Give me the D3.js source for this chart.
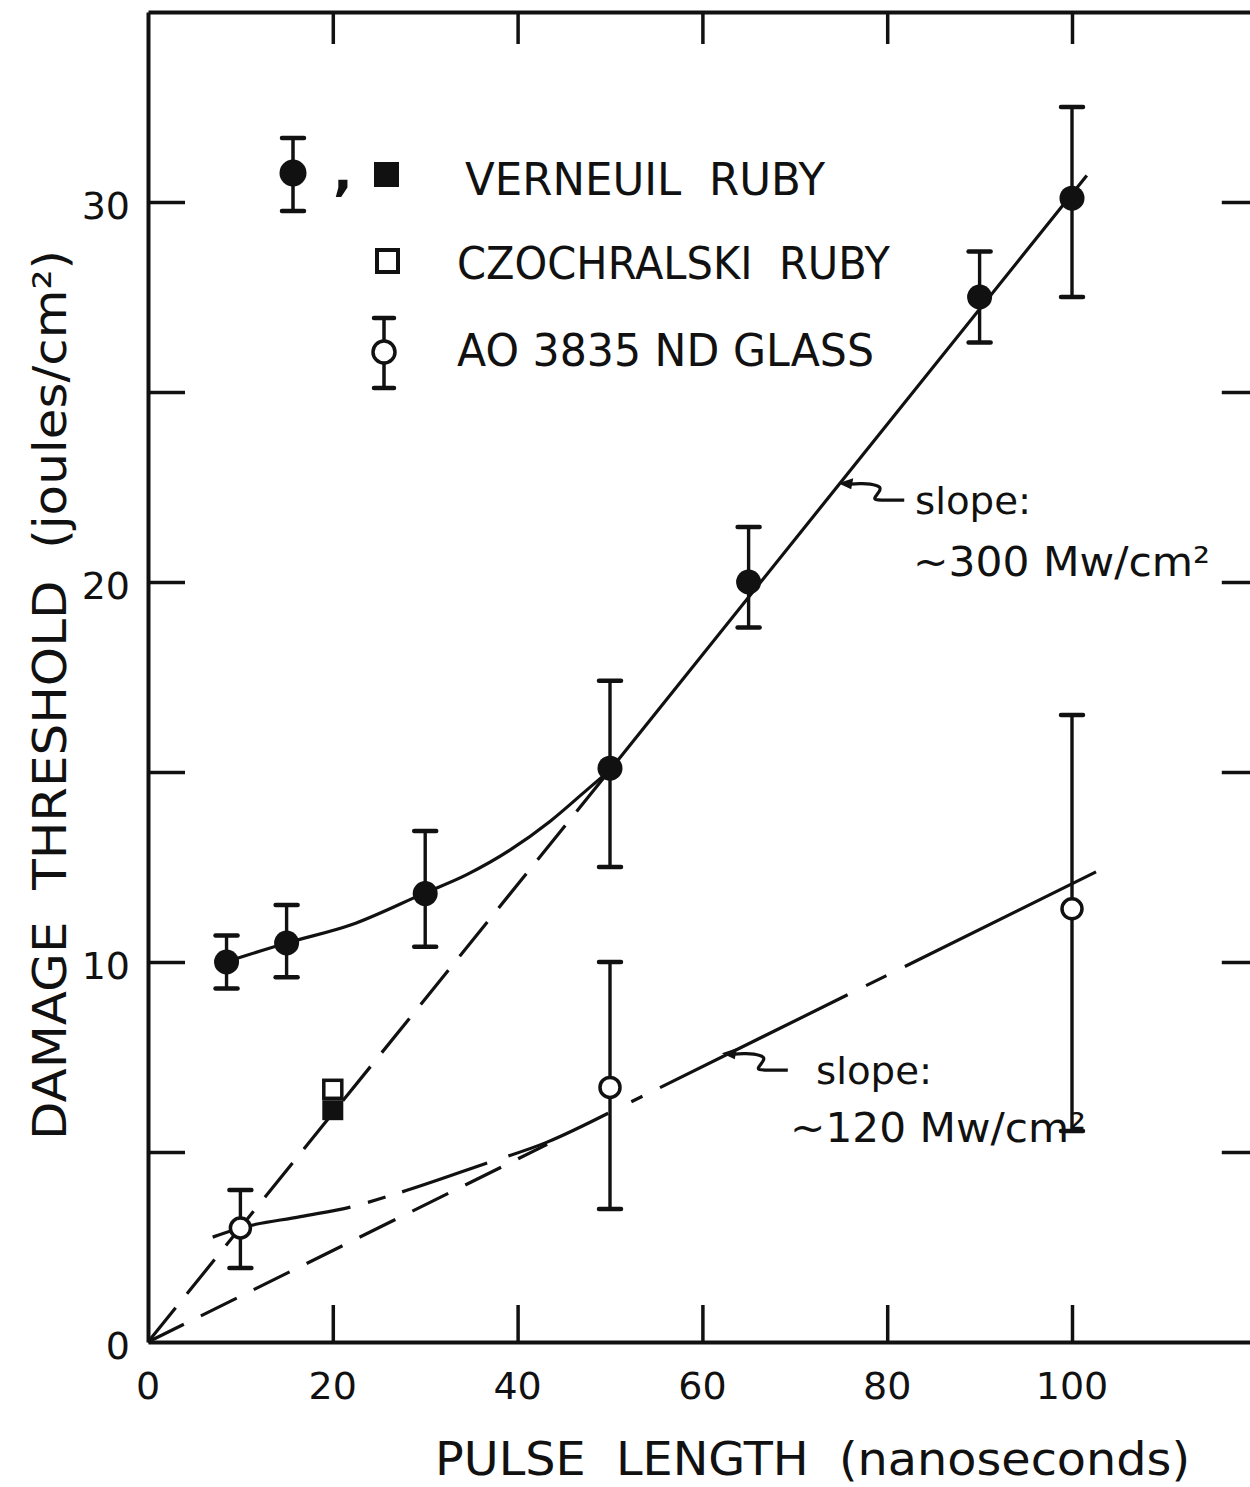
<!DOCTYPE html>
<html>
<head>
<meta charset="utf-8">
<script src="https://cdn.jsdelivr.net/npm/d3@7"></script>
<style>
  body { margin: 0; background: #fff; }
  svg { display: block; }
  text { font-family: "DejaVu Sans", sans-serif; fill: #111; white-space: pre; }
</style>
</head>
<body>
<div id="chart"></div>
<script>
// DATA

// Verneuil ruby, filled circles with error bars
const verneuilX = [8.5, 15, 30, 50, 65, 90, 100];
const verneuilY = [10.0, 10.5, 11.8, 15.1, 20.0, 27.5, 30.1];
const verneuilLo = [9.3, 9.6, 10.4, 12.5, 18.8, 26.3, 27.5];
const verneuilHi = [10.7, 11.5, 13.45, 17.4, 21.45, 28.7, 32.5];

// Verneuil (filled) and Czochralski (open) squares at 20 ns
const verneuilSqX = [20];
const verneuilSqY = [6.1];
const czochralskiX = [20];
const czochralskiY = [6.65];

// AO 3835 Nd glass, open circles with error bars
const glassX = [10, 50, 100];
const glassY = [3.0, 6.7, 11.4];
const glassLo = [1.95, 3.5, 5.55];
const glassHi = [4.0, 10.0, 16.5];

// hand drawn fit curves: a bend at short pulses, then a straight line
const verneuilBendX = [8.4, 15, 22, 29.8, 34.5, 39.2, 43.5, 47.5, 50];
const verneuilBendY = [10.0, 10.5, 10.98, 11.8, 12.3, 12.95, 13.7, 14.53, 15.05];
const verneuilLineX = [50, 101.6];
const verneuilLineY = [15.05, 30.7];
const glassBendX = [7.0, 10, 16.5, 21.9, 27.5, 36.7, 43.2, 49.8];
const glassBendY = [2.76, 3.0, 3.3, 3.55, 3.95, 4.71, 5.26, 6.02];
const glassLineX = [49.8, 102.6];
const glassLineY = [6.02, 12.37];
// where the glass fit is drawn solid (the rest is gaps)
const glassSolidRanges = [[7, 21.9], [23.8, 25.7], [27.5, 36.7], [39, 49.8], [52.3, 53.5], [55.4, 75.7], [77.7, 79.9], [81.9, 102.6]];

// dashed extrapolations to the origin
const rubyDashX = [0, 50];
const rubyDashY = [0, 15.05];
const glassDashX = [0, 43.2];
const glassDashY = [0, 5.2];

// axes
const xTicks = [20, 40, 60, 80, 100];
const yTicks = [5, 10, 15, 20, 25, 30];
const xTickLabels = [0, 20, 40, 60, 80, 100];
const yTickLabels = [0, 10, 20, 30];

// legend + annotations
const legendLabels = ["VERNEUIL  RUBY", "CZOCHRALSKI  RUBY", "AO 3835 ND GLASS"];
const slopeTips = [[74.7, 22.6], [62.1, 7.6]];
const slopeLines = [["slope:", "~300 Mw/cm\u00B2"], ["slope:", "~120 Mw/cm\u00B2"]];

// SETUP
const W = 1250, H = 1487;
const INK = "#111";

const svg = d3.select("#chart").append("svg")
  .attr("width", W).attr("height", H)
  .style("background", "#fff");

const x = d3.scaleLinear().domain([0, 120]).range([148, 148 + 120 * 9.24]);
const y = d3.scaleLinear().domain([0, 35]).range([1342, 1342 - 35 * 38]);

//FRAME + TICKS (ticks point inward)
function styleAxis(g, tickW) {
  g.select(".domain").attr("stroke", INK).attr("stroke-width", 4);
  g.selectAll(".tick line").attr("stroke", INK).attr("stroke-width", tickW);
  g.selectAll(".tick text").remove();
}

svg.append("g").attr("transform", `translate(0,${y(0)})`)
  .call(d3.axisBottom(x).tickValues(xTicks).tickSize(-37).tickSizeOuter(0).tickFormat(""))
  .call(g => styleAxis(g, 3.5));
svg.append("g").attr("transform", `translate(0,${y(35)})`)
  .call(d3.axisTop(x).tickValues(xTicks).tickSize(-32).tickSizeOuter(0).tickFormat(""))
  .call(g => styleAxis(g, 3.5));
svg.append("g").attr("transform", `translate(${x(0)},0)`)
  .call(d3.axisLeft(y).tickValues(yTicks).tickSize(-37).tickSizeOuter(0).tickFormat(""))
  .call(g => styleAxis(g, 3.5));
svg.append("g").attr("transform", `translate(${x(120)},0)`)
  .call(d3.axisRight(y).tickValues(yTicks).tickSize(-35).tickSizeOuter(0).tickFormat(""))
  .call(g => styleAxis(g, 3.5));

// tick labels
svg.append("g").selectAll("text")
  .data(xTickLabels).join("text")
  .attr("x", d => x(d))
  .attr("y", y(0) + 44)
  .attr("dominant-baseline", "central")
  .attr("text-anchor", "middle")
  .style("font-size", "38px")
  .text(d => d);

svg.append("g").selectAll("text")
  .data(yTickLabels).join("text")
  .attr("x", 130)
  .attr("y", d => y(d) + 4)
  .attr("dominant-baseline", "central")
  .attr("text-anchor", "end")
  .style("font-size", "38px")
  .text(d => d);

// axis titles
svg.append("text")
  .attr("x", 435).attr("y", 1475)
  .attr("textLength", 755).attr("lengthAdjust", "spacingAndGlyphs")
  .style("font-size", "46px")
  .text("PULSE  LENGTH  (nanoseconds)");

svg.append("text")
  .attr("transform", "translate(66,1140) rotate(-90)")
  .attr("textLength", 890).attr("lengthAdjust", "spacingAndGlyphs")
  .style("font-size", "46px")
  .text("DAMAGE  THRESHOLD  (joules/cm\u00B2)");

//FIT LINES
const line = d3.line().x(d => x(d[0])).y(d => y(d[1]));
const curve = d3.line().x(d => x(d[0])).y(d => y(d[1])).curve(d3.curveMonotoneX);
const plot = svg.append("g").attr("fill", "none").attr("stroke", INK);

// bend + straight part as ONE subpath (dashes restart on every subpath)
function bendThenLine(bx, by, lx, ly) {
  return curve(d3.zip(bx, by)) + line(d3.zip(lx, ly)).replace(/^M/, "L");
}

plot.append("path")
  .attr("d", line(d3.zip(rubyDashX, rubyDashY)))
  .attr("stroke-width", 3.2)
  .attr("stroke-dasharray", "44,18");

plot.append("path")
  .attr("d", line(d3.zip(glassDashX, glassDashY)))
  .attr("stroke-width", 3.2)
  .attr("stroke-dasharray", "40,19");

plot.append("path")
  .attr("d", bendThenLine(verneuilBendX, verneuilBendY, verneuilLineX, verneuilLineY))
  .attr("stroke-width", 3.2);

const glassPath = plot.append("path")
  .attr("d", bendThenLine(glassBendX, glassBendY, glassLineX, glassLineY))
  .attr("stroke-width", 3.2);

// turn the solid ranges into a dash pattern along the path
function lengthAtX(node, px) {
  let lo = 0, hi = node.getTotalLength();
  for (let i = 0; i < 40; i++) {
    const mid = (lo + hi) / 2;
    if (node.getPointAtLength(mid).x < px) lo = mid; else hi = mid;
  }
  return lo;
}
{
  const node = glassPath.node();
  const total = node.getTotalLength();
  const stops = glassSolidRanges.flat().map(v => lengthAtX(node, x(v)));
  const dash = [0, stops[0]];
  for (let i = 1; i < stops.length; i++) dash.push(Math.max(0, stops[i] - stops[i - 1]));
  dash.push(total);
  glassPath.attr("stroke-dasharray", dash.map(d => d.toFixed(1)).join(","));
}

//ERROR BARS + MARKERS
function errorBars(xs, lo, hi) {
  const g = svg.append("g").attr("stroke", INK);
  const rows = d3.range(xs.length);
  g.selectAll("line.v").data(rows).join("line").attr("class", "v")
    .attr("x1", i => x(xs[i])).attr("x2", i => x(xs[i]))
    .attr("y1", i => y(lo[i])).attr("y2", i => y(hi[i]))
    .attr("stroke-width", 3.4);
  g.selectAll("line.lo").data(rows).join("line").attr("class", "lo")
    .attr("x1", i => x(xs[i]) - 11).attr("x2", i => x(xs[i]) + 11)
    .attr("y1", i => y(lo[i])).attr("y2", i => y(lo[i]))
    .attr("stroke-width", 4.5).attr("stroke-linecap", "round");
  g.selectAll("line.hi").data(rows).join("line").attr("class", "hi")
    .attr("x1", i => x(xs[i]) - 11).attr("x2", i => x(xs[i]) + 11)
    .attr("y1", i => y(hi[i])).attr("y2", i => y(hi[i]))
    .attr("stroke-width", 4.5).attr("stroke-linecap", "round");
}
errorBars(verneuilX, verneuilLo, verneuilHi);
errorBars(glassX, glassLo, glassHi);

svg.append("g").selectAll("circle")
  .data(d3.zip(verneuilX, verneuilY)).join("circle")
  .attr("cx", d => x(d[0])).attr("cy", d => y(d[1]))
  .attr("r", 12.5).attr("fill", INK);

svg.append("g").selectAll("circle")
  .data(d3.zip(glassX, glassY)).join("circle")
  .attr("cx", d => x(d[0])).attr("cy", d => y(d[1]))
  .attr("r", 10).attr("fill", "#fff").attr("stroke", INK).attr("stroke-width", 3.5);

svg.append("g").selectAll("rect")
  .data(d3.zip(czochralskiX, czochralskiY)).join("rect")
  .attr("x", d => x(d[0]) - 9).attr("y", d => y(d[1]) - 9)
  .attr("width", 18).attr("height", 18)
  .attr("fill", "#fff").attr("stroke", INK).attr("stroke-width", 3.5);

svg.append("g").selectAll("rect")
  .data(d3.zip(verneuilSqX, verneuilSqY)).join("rect")
  .attr("x", d => x(d[0]) - 10.5).attr("y", d => y(d[1]) - 10)
  .attr("width", 21).attr("height", 20)
  .attr("fill", INK);

//LEGEND
const legend = svg.append("g");
const rowY = [178, 262, 349];

// filled circle glyph
legend.append("line").attr("x1", 293).attr("x2", 293).attr("y1", 138).attr("y2", 211)
  .attr("stroke", INK).attr("stroke-width", 3.5);
[138, 211].forEach(v => legend.append("line")
  .attr("x1", 282).attr("x2", 304).attr("y1", v).attr("y2", v)
  .attr("stroke", INK).attr("stroke-width", 4.5).attr("stroke-linecap", "round"));
legend.append("circle").attr("cx", 293).attr("cy", 173).attr("r", 13.5).attr("fill", INK);
legend.append("text").attr("x", 333).attr("y", 190)
  .style("font-size", "52px").style("font-weight", "bold").text(",");
legend.append("rect").attr("x", 374).attr("y", 162).attr("width", 25).attr("height", 25).attr("fill", INK);

// open square glyph
legend.append("rect").attr("x", 377).attr("y", 250).attr("width", 21).attr("height", 22)
  .attr("fill", "#fff").attr("stroke", INK).attr("stroke-width", 4);

// open circle glyph
legend.append("line").attr("x1", 384).attr("x2", 384).attr("y1", 318).attr("y2", 388)
  .attr("stroke", INK).attr("stroke-width", 3.5);
[318, 388].forEach(v => legend.append("line")
  .attr("x1", 374).attr("x2", 394).attr("y1", v).attr("y2", v)
  .attr("stroke", INK).attr("stroke-width", 4.5).attr("stroke-linecap", "round"));
legend.append("circle").attr("cx", 384).attr("cy", 352).attr("r", 11)
  .attr("fill", "#fff").attr("stroke", INK).attr("stroke-width", 3.5);

const legendX = [465, 457, 457];
const legendW = [360, 433, 417];
legend.selectAll("text.lab").data(legendLabels).join("text").attr("class", "lab")
  .attr("x", (d, i) => legendX[i])
  .attr("y", (d, i) => rowY[i] + 17)
  .attr("textLength", (d, i) => legendW[i])
  .attr("lengthAdjust", "spacingAndGlyphs")
  .style("font-size", "44px")
  .text(d => d);

//SLOPE ANNOTATIONS
const squiggle = d3.line().curve(d3.curveBasis);
slopeTips.forEach((t, i) => {
  const tx = x(t[0]), ty = y(t[1]);
  const g = svg.append("g").attr("transform", `translate(${tx},${ty})`);
  g.append("path")
    .attr("d", "M0,0 L15,-5 L13,6 Z")
    .attr("fill", INK);
  g.append("path")
    .attr("d", squiggle([[10, 1], [24, 0], [40, 2], [44, 6], [34, 16], [40, 17], [66, 17]]))
    .attr("fill", "none").attr("stroke", INK).attr("stroke-width", 3.2);
});

const slopeTextX = [[915, 913], [816, 790]];
const slopeTextY = [[514, 576], [1084, 1142]];
const slopeTextW = [[116, 297], [116, 296]];
slopeLines.forEach((rows, i) => {
  rows.forEach((s, j) => {
    svg.append("text")
      .attr("x", slopeTextX[i][j]).attr("y", slopeTextY[i][j])
      .attr("textLength", slopeTextW[i][j]).attr("lengthAdjust", "spacingAndGlyphs")
      .style("font-size", j === 0 ? "38px" : "40px")
      .text(s);
  });
});
</script>
</body>
</html>
